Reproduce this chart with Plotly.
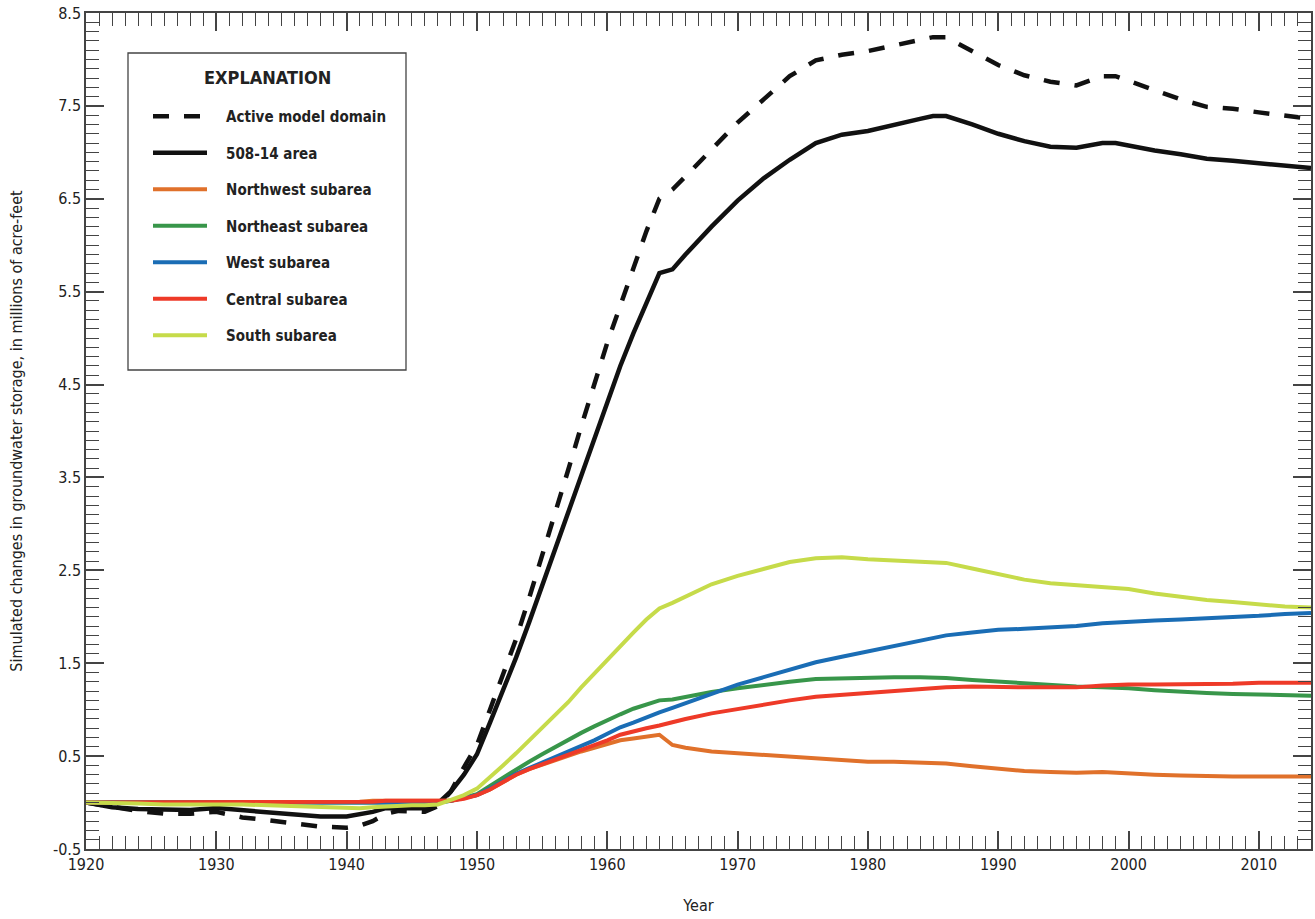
import plotly.graph_objects as go

# Simulation years shared by every series
years = [1920, 1922, 1924, 1926, 1928, 1930, 1932, 1934, 1936, 1938,
         1940, 1941, 1942, 1943, 1944, 1945, 1946, 1947, 1948, 1949,
         1950, 1951, 1952, 1953, 1954, 1955, 1956, 1957, 1958, 1959,
         1960, 1961, 1962, 1963, 1964, 1965, 1966, 1968, 1970, 1972,
         1974, 1976, 1978, 1980, 1982, 1984, 1985, 1986, 1988, 1990,
         1992, 1994, 1996, 1998, 1999, 2000, 2002, 2004, 2006, 2008,
         2010, 2012, 2014]

# Changes in groundwater storage, millions of acre-feet
active_domain = [0.0, -0.05, -0.09, -0.12, -0.12, -0.10, -0.16, -0.19, -0.23, -0.26,
                 -0.27, -0.25, -0.20, -0.12, -0.09, -0.10, -0.10, -0.04, 0.12, 0.38,
                 0.62, 1.00, 1.38, 1.76, 2.20, 2.65, 3.10, 3.58, 4.05, 4.50,
                 4.95, 5.35, 5.75, 6.15, 6.50, 6.60, 6.74, 7.03, 7.32, 7.57,
                 7.82, 7.99, 8.05, 8.09, 8.15, 8.22, 8.24, 8.24, 8.09, 7.94,
                 7.83, 7.76, 7.72, 7.82, 7.82, 7.77, 7.67, 7.57, 7.49, 7.47,
                 7.43, 7.39, 7.36]
area_508_14 = [0.0, -0.05, -0.07, -0.08, -0.08, -0.06, -0.08, -0.10, -0.13, -0.15,
               -0.15, -0.13, -0.10, -0.06, -0.06, -0.06, -0.06, -0.01, 0.12, 0.30,
               0.52, 0.86, 1.20, 1.56, 1.94, 2.33, 2.72, 3.11, 3.50, 3.90,
               4.30, 4.70, 5.05, 5.38, 5.70, 5.74, 5.90, 6.20, 6.48, 6.72,
               6.92, 7.10, 7.19, 7.23, 7.30, 7.36, 7.39, 7.39, 7.30, 7.20,
               7.12, 7.06, 7.05, 7.10, 7.10, 7.07, 7.02, 6.98, 6.93, 6.91,
               6.88, 6.85, 6.83]
northwest = [0.0, 0.0, 0.0, 0.0, 0.0, 0.0, 0.0, 0.0, 0.01, 0.01,
             0.01, 0.01, 0.02, 0.02, 0.03, 0.03, 0.02, 0.02, 0.02, 0.05,
             0.08, 0.14, 0.22, 0.30, 0.36, 0.41, 0.46, 0.51, 0.55, 0.59,
             0.63, 0.67, 0.69, 0.71, 0.73, 0.62, 0.59, 0.55, 0.53, 0.51,
             0.50, 0.48, 0.46, 0.44, 0.44, 0.43, 0.42, 0.42, 0.39, 0.36,
             0.34, 0.33, 0.32, 0.33, 0.32, 0.31, 0.30, 0.29, 0.28, 0.28,
             0.28, 0.28, 0.28]
northeast = [0.0, 0.0, -0.01, -0.01, -0.01, -0.01, -0.01, -0.01, -0.01, -0.01,
             -0.01, -0.01, -0.01, 0.0, 0.0, 0.0, 0.0, 0.0, 0.02, 0.05,
             0.09, 0.18, 0.27, 0.36, 0.44, 0.52, 0.60, 0.67, 0.75, 0.82,
             0.89, 0.95, 1.01, 1.06, 1.10, 1.11, 1.14, 1.19, 1.23, 1.27,
             1.30, 1.33, 1.34, 1.34, 1.35, 1.35, 1.35, 1.34, 1.32, 1.30,
             1.28, 1.26, 1.25, 1.24, 1.24, 1.23, 1.21, 1.19, 1.18, 1.17,
             1.16, 1.15, 1.15]
west = [0.0, 0.0, 0.0, 0.0, 0.0, 0.0, 0.0, 0.0, -0.01, -0.01,
        -0.01, -0.01, 0.0, 0.0, 0.0, 0.0, 0.0, 0.0, 0.02, 0.05,
        0.08, 0.15, 0.23, 0.31, 0.37, 0.43, 0.48, 0.54, 0.61, 0.67,
        0.74, 0.81, 0.86, 0.92, 0.97, 1.02, 1.07, 1.17, 1.27, 1.35,
        1.43, 1.51, 1.57, 1.63, 1.69, 1.75, 1.78, 1.80, 1.83, 1.86,
        1.87, 1.88, 1.90, 1.93, 1.94, 1.95, 1.96, 1.97, 1.98, 1.99,
        2.01, 2.03, 2.04]
central = [0.0, 0.0, 0.0, 0.0, 0.0, 0.0, 0.0, 0.0, 0.0, 0.0,
           0.0, 0.01, 0.01, 0.02, 0.02, 0.02, 0.02, 0.01, 0.02, 0.04,
           0.08, 0.14, 0.22, 0.30, 0.36, 0.41, 0.46, 0.51, 0.57, 0.62,
           0.67, 0.73, 0.77, 0.80, 0.83, 0.87, 0.90, 0.96, 1.01, 1.06,
           1.10, 1.14, 1.16, 1.18, 1.21, 1.23, 1.24, 1.24, 1.25, 1.24,
           1.24, 1.24, 1.24, 1.26, 1.27, 1.27, 1.27, 1.27, 1.28, 1.28,
           1.29, 1.29, 1.29]
south = [0.0, 0.0, -0.01, -0.02, -0.02, -0.01, -0.02, -0.03, -0.04, -0.05,
         -0.06, -0.06, -0.05, -0.04, -0.03, -0.03, -0.03, -0.02, 0.03, 0.08,
         0.15, 0.27, 0.40, 0.53, 0.67, 0.80, 0.94, 1.08, 1.24, 1.39,
         1.54, 1.68, 1.83, 1.97, 2.09, 2.15, 2.22, 2.35, 2.44, 2.52,
         2.59, 2.63, 2.64, 2.62, 2.61, 2.60, 2.59, 2.58, 2.52, 2.46,
         2.40, 2.36, 2.34, 2.33, 2.32, 2.30, 2.25, 2.21, 2.18, 2.16,
         2.13, 2.11, 2.10]

series = [
    ("Active model domain", active_domain, "#111111", 4.5, "16px,15px"),
    ("508-14 area", area_508_14, "#111111", 4.5, "solid"),
    ("Northwest subarea", northwest, "#E0712B", 4, "solid"),
    ("Northeast subarea", northeast, "#38964A", 4, "solid"),
    ("West subarea", west, "#1A6DB5", 4, "solid"),
    ("Central subarea", central, "#EE3A28", 4, "solid"),
    ("South subarea", south, "#C6DB4A", 4, "solid"),
]

y_ticks = [-0.5 + i for i in range(10)]
y_labels = [f"{v:.1f}" for v in y_ticks]
x_ticks = list(range(1920, 2011, 10))

FONT = "Liberation Sans Narrow, DejaVu Sans Condensed, Arial Narrow, Roboto, sans-serif"
AXIS_COLOR = "#444444"
PAD = "\u00a0\u00a0\u00a0"  # gap between legend swatch and label

fig = go.Figure()
for i, (name, vals, color, width, dash) in enumerate(series):
    fig.add_trace(go.Scatter(
        x=years, y=vals, mode="lines", name=PAD + name,
        legendgroup=f"g{i}",
        line=dict(color=color, width=width, dash=dash),
    ))

# Legend frame and heading
L, R, T = 86, 1311, 13
PW, PH = 1225, 836
def px(xp):
    return (xp - L) / PW
def py(yp):
    return 1 - (yp - T) / PH

fig.add_shape(type="rect", xref="paper", yref="paper",
              x0=px(128), x1=px(406), y0=py(370), y1=py(53),
              line=dict(color=AXIS_COLOR, width=1.3), fillcolor="white", layer="below")
fig.add_annotation(text="EXPLANATION", xref="paper", yref="paper",
                   x=px(267), y=py(78), xanchor="center", yanchor="middle",
                   showarrow=False,
                   font=dict(family=FONT, size=18, color="#222222", weight="bold"))

fig.update_layout(
    width=1315, height=919,
    margin=dict(l=86, r=4, t=13, b=70),
    paper_bgcolor="white", plot_bgcolor="white",
    font=dict(family=FONT, color="#222222", size=16),
    showlegend=True,
    legend=dict(
        x=px(148), y=py(100), xanchor="left", yanchor="top",
        bgcolor="rgba(0,0,0,0)", borderwidth=0,
        font=dict(family=FONT, size=15, color="#222222", weight="bold"),
        itemwidth=54, tracegroupgap=14, traceorder="grouped",
    ),
    xaxis=dict(
        range=[1920, 2014], tickmode="array", tickvals=x_ticks,
        ticks="inside", ticklen=18, tickwidth=1.5, tickcolor=AXIS_COLOR,
        showline=True, linecolor=AXIS_COLOR, linewidth=1.5, mirror="ticks",
        showgrid=False, zeroline=False,
        minor=dict(dtick=1, tick0=1920, ticks="inside", ticklen=13,
                   tickwidth=1.3, tickcolor=AXIS_COLOR, showgrid=False),
        tickfont=dict(size=16, color="#222222"),
        title=dict(text="Year", font=dict(size=16, color="#222222"), standoff=27),
        automargin=False,
    ),
    yaxis=dict(
        range=[-0.5, 8.5], tickmode="array", tickvals=y_ticks, ticktext=y_labels,
        ticks="inside", ticklen=18, tickwidth=1.5, tickcolor=AXIS_COLOR,
        showline=True, linecolor=AXIS_COLOR, linewidth=1.5, mirror="ticks",
        showgrid=False, zeroline=False,
        minor=dict(dtick=0.1, tick0=-0.5, ticks="inside", ticklen=13,
                   tickwidth=1.3, tickcolor=AXIS_COLOR, showgrid=False),
        tickfont=dict(size=16, color="#222222"),
        title=dict(text="Simulated changes in groundwater storage, in millions of acre-feet",
                   font=dict(size=16, color="#222222"), standoff=26),
        automargin=False,
    ),
)

fig.write_html("out.html")
